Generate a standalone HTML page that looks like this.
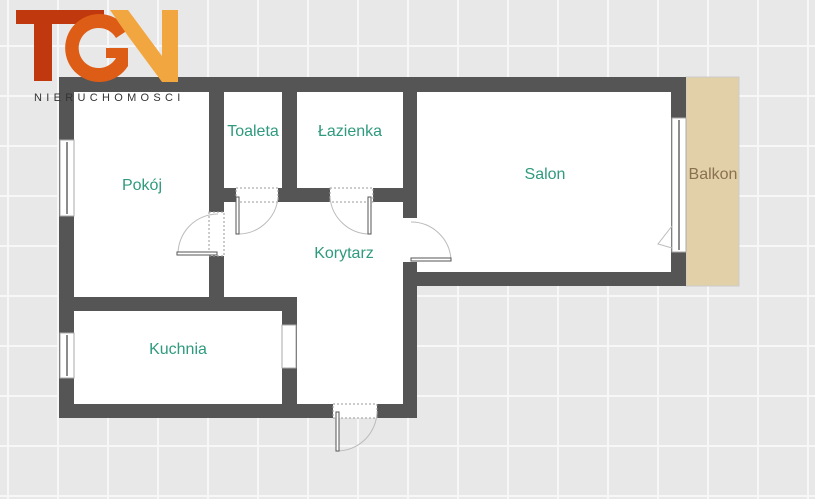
<!DOCTYPE html>
<html><head><meta charset="utf-8"><style>
html,body{margin:0;padding:0;width:815px;height:499px;overflow:hidden;background:#e8e8e8}
svg{display:block}
text{font-family:"Liberation Sans",sans-serif}
</style></head><body>
<svg width="815" height="499" viewBox="0 0 815 499" xmlns="http://www.w3.org/2000/svg">
<defs>
<pattern id="g" x="7" y="45" width="50" height="50" patternUnits="userSpaceOnUse">
<rect width="50" height="50" fill="#e8e8e8"/>
<rect x="0" y="0" width="2" height="50" fill="#f7f7f7"/>
<rect x="0" y="0" width="50" height="2" fill="#f7f7f7"/>
</pattern>
</defs>
<rect width="815" height="499" fill="url(#g)"/>
<rect x="686" y="77" width="53" height="209" fill="#e2d0a9" stroke="#ccc" stroke-width="1"/>
<g fill="#fff">
<rect x="74" y="92" width="135" height="205"/>
<rect x="224" y="92" width="58" height="96"/>
<rect x="297" y="92" width="106" height="96"/>
<rect x="417" y="92" width="254" height="180"/>
<rect x="224" y="202" width="179" height="202"/>
<rect x="74" y="311" width="208" height="93"/>
</g>
<g fill="#555">
<rect x="59" y="77" width="627" height="15"/>
<rect x="59" y="77" width="15" height="341"/>
<rect x="59" y="404" width="358" height="14"/>
<rect x="74" y="297" width="223" height="14"/>
<rect x="282" y="297" width="15" height="121"/>
<rect x="403" y="92" width="14" height="126"/>
<rect x="403" y="262" width="14" height="156"/>
<rect x="403" y="272" width="283" height="14"/>
<rect x="671" y="77" width="15" height="209"/>
<rect x="209" y="92" width="15" height="120"/>
<rect x="209" y="256" width="15" height="41"/>
<rect x="282" y="92" width="15" height="96"/>
<rect x="224" y="188" width="12" height="14"/>
<rect x="278" y="188" width="52" height="14"/>
<rect x="373" y="188" width="44" height="14"/>
</g>
<g fill="#fff" stroke="#aaa" stroke-width="1">
<rect x="60" y="140" width="14" height="76"/>
<rect x="60" y="333" width="14" height="45"/>
<rect x="282" y="325" width="14" height="43"/>
<rect x="672" y="118" width="14" height="134"/>
</g>
<g stroke="#666" stroke-width="1.5">
<line x1="67" y1="142" x2="67" y2="214"/>
<line x1="67" y1="335" x2="67" y2="376"/>
<line x1="679" y1="120" x2="679" y2="250"/>
</g>
<g fill="#fff" stroke="#999" stroke-width="1">
<rect x="236" y="188" width="42" height="14" stroke-dasharray="2,2"/>
<rect x="330" y="188" width="43" height="14" stroke-dasharray="2,2"/>
<rect x="209" y="212" width="15" height="44" stroke-dasharray="2,2"/>
<rect x="403" y="218" width="14" height="44" stroke="none"/>
<rect x="333" y="404" width="44" height="14" stroke-dasharray="2,2"/>
</g>
<g fill="none" stroke="#bbb" stroke-width="1">
<path d="M238 234 A40 40 0 0 0 278 197"/>
<path d="M330 197 A40 40 0 0 0 370 234"/>
<path d="M178 254 A40 40 0 0 1 218 214"/>
<path d="M411 222 A40 40 0 0 1 451 260"/>
<path d="M337 451 A40 40 0 0 0 377 411"/>
<path d="M672 226 L658 244 L672 248"/>
</g>
<g fill="#fff" stroke="#555" stroke-width="1">
<rect x="236" y="197" width="3" height="37"/>
<rect x="368" y="197" width="3" height="37"/>
<rect x="177" y="252" width="40" height="3"/>
<rect x="411" y="258" width="40" height="3"/>
<rect x="336" y="412" width="3" height="39"/>
</g>
<g fill="#2f9a7d" font-size="16" text-anchor="middle">
<text x="142" y="190">Pokój</text>
<text x="253" y="136">Toaleta</text>
<text x="350" y="136">Łazienka</text>
<text x="545" y="179">Salon</text>
<text x="344" y="258">Korytarz</text>
<text x="178" y="354">Kuchnia</text>
</g>
<text x="713" y="179" fill="#8a7150" font-size="16" text-anchor="middle">Balkon</text>
<rect x="16" y="10" width="88" height="14" fill="#c0380d"/>
<rect x="34" y="10" width="18" height="71" fill="#c0380d"/>
<path d="M128 30 A34 34 0 1 0 128 66 L128 48 L106 48 L106 58 L116 58 A20 20 0 1 1 116 38 Z" fill="#de5d16"/>
<path d="M110 10 L128 10 L162 56 L162 10 L178 10 L178 82 L162 82 L128 36 Z" fill="#f2a640"/>
<text x="34" y="101" font-size="11" fill="#333" letter-spacing="4.3">NIERUCHOMOSCI</text>
</svg>
</body></html>
